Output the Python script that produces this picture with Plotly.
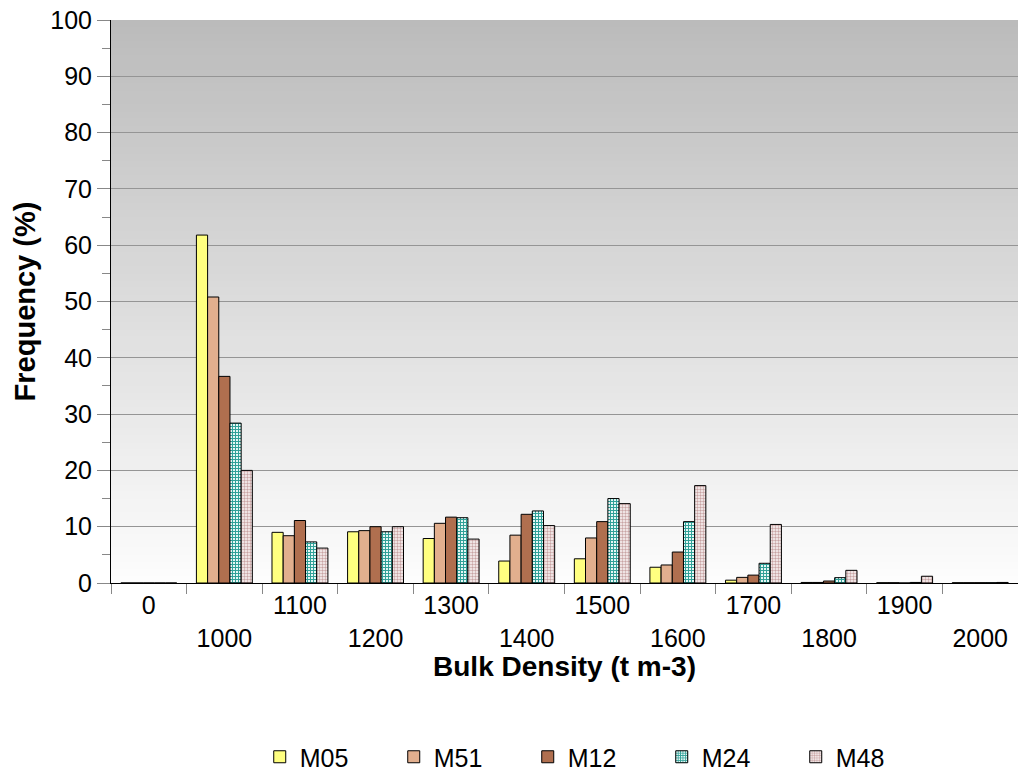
import plotly.graph_objects as go

categories = ["0", "1000", "1100", "1200", "1300", "1400", "1500", "1600", "1700", "1800", "1900", "2000"]
tick_labels = ["0", "<br>1000", "1100", "<br>1200", "1300", "<br>1400", "1500", "<br>1600", "1700", "<br>1800", "1900", "<br>2000"]

series_names = ["M05", "M51", "M12", "M24", "M48"]
m05 = [0, 61.8, 9.0, 9.1, 7.9, 3.9, 4.3, 2.8, 0.5, 0.1, 0.05, 0.05]
m51 = [0, 50.8, 8.4, 9.3, 10.6, 8.5, 8.0, 3.2, 1.0, 0.1, 0.05, 0.05]
m12 = [0, 36.7, 11.1, 10.0, 11.7, 12.2, 10.9, 5.5, 1.4, 0.35, 0.0, 0.05]
m24 = [0, 28.4, 7.3, 9.1, 11.6, 12.8, 15.0, 10.9, 3.5, 0.95, 0.1, 0.05]
m48 = [0, 20.0, 6.2, 10.0, 7.8, 10.2, 14.1, 17.3, 10.4, 2.25, 1.2, 0.1]

y_ticks = [0, 10, 20, 30, 40, 50, 60, 70, 80, 90, 100]

values = [m05, m51, m12, m24, m48]
styles = [
    dict(color="#ffff80", pattern=None),
    dict(color="#e2af8e", pattern=None),
    dict(color="#b06f4f", pattern=None),
    dict(color="#e6f7f5", pattern=dict(shape="+", fgcolor="#2f9f97", bgcolor="#e6f7f5", size=3, solidity=0.55, fillmode="replace")),
    dict(color="#ffffff", pattern=dict(shape=".", fgcolor="#c9a4a4", bgcolor="#fcf8f8", size=3, solidity=0.5, fillmode="replace")),
]

fig = go.Figure()
for name, vals, st in zip(series_names, values, styles):
    marker = dict(color=st["color"], line=dict(color="#000000", width=1))
    if st["pattern"]:
        marker["pattern"] = st["pattern"]
    fig.add_trace(go.Bar(x=categories, y=vals, name=name, marker=marker))

# gradient plot background (layout decoration)
shapes = []
n = 80
top = (0xBB, 0xBB, 0xBB)
bot = (0xFD, 0xFD, 0xFD)
for i in range(n):
    t = (i + 0.5) / n
    c = tuple(int(round(top[k] + (bot[k] - top[k]) * t)) for k in range(3))
    y1 = 1 - i / n
    y0 = max(0.0, 1 - (i + 1) / n - 0.01)
    shapes.append(dict(type="rect", xref="x domain", yref="y domain",
                       x0=0, x1=1, y0=y0, y1=y1,
                       fillcolor="rgb(%d,%d,%d)" % c, line=dict(width=0), layer="below"))

fig.update_layout(
    width=1018, height=780,
    margin=dict(l=111, r=0, t=20, b=197),
    paper_bgcolor="white",
    plot_bgcolor="white",
    shapes=shapes,
    barmode="group",
    bargap=0.26,
    bargroupgap=0,
    font=dict(family="Liberation Sans, Arial, sans-serif", size=25, color="#000000"),
    showlegend=True,
    legend=dict(orientation="h", x=0.164, xanchor="left", y=-0.31, yanchor="middle",
                font=dict(size=25), entrywidth=89, entrywidthmode="pixels",
                bgcolor="rgba(0,0,0,0)"),
)

fig.update_xaxes(
    type="category", categoryorder="array", categoryarray=categories,
    tickvals=categories, ticktext=tick_labels,
    tickson="boundaries", ticks="outside", ticklen=10, tickcolor="#888888", tickwidth=1,
    showgrid=False, showline=True, linecolor="#000000", linewidth=1,
    tickfont=dict(size=25),
    title=dict(text="<b>Bulk Density (t m-3)</b>", font=dict(size=28), standoff=2),
    automargin=False,
)
fig.update_yaxes(
    range=[0, 100], tickvals=y_ticks, ticks="outside", ticklen=13, tickcolor="#888888",
    minor=dict(dtick=5, ticks="outside", ticklen=8, tickcolor="#888888", showgrid=False),
    showgrid=True, gridcolor="#959595", gridwidth=1,
    showline=True, linecolor="#000000", linewidth=1,
    zeroline=False,
    tickfont=dict(size=25),
    title=dict(text="<b>Frequency (%)</b>", font=dict(size=29), standoff=6),
    automargin=False,
)

fig.write_html("out.html", config={"displayModeBar": False},
               post_script="document.body.style.margin='0';")
